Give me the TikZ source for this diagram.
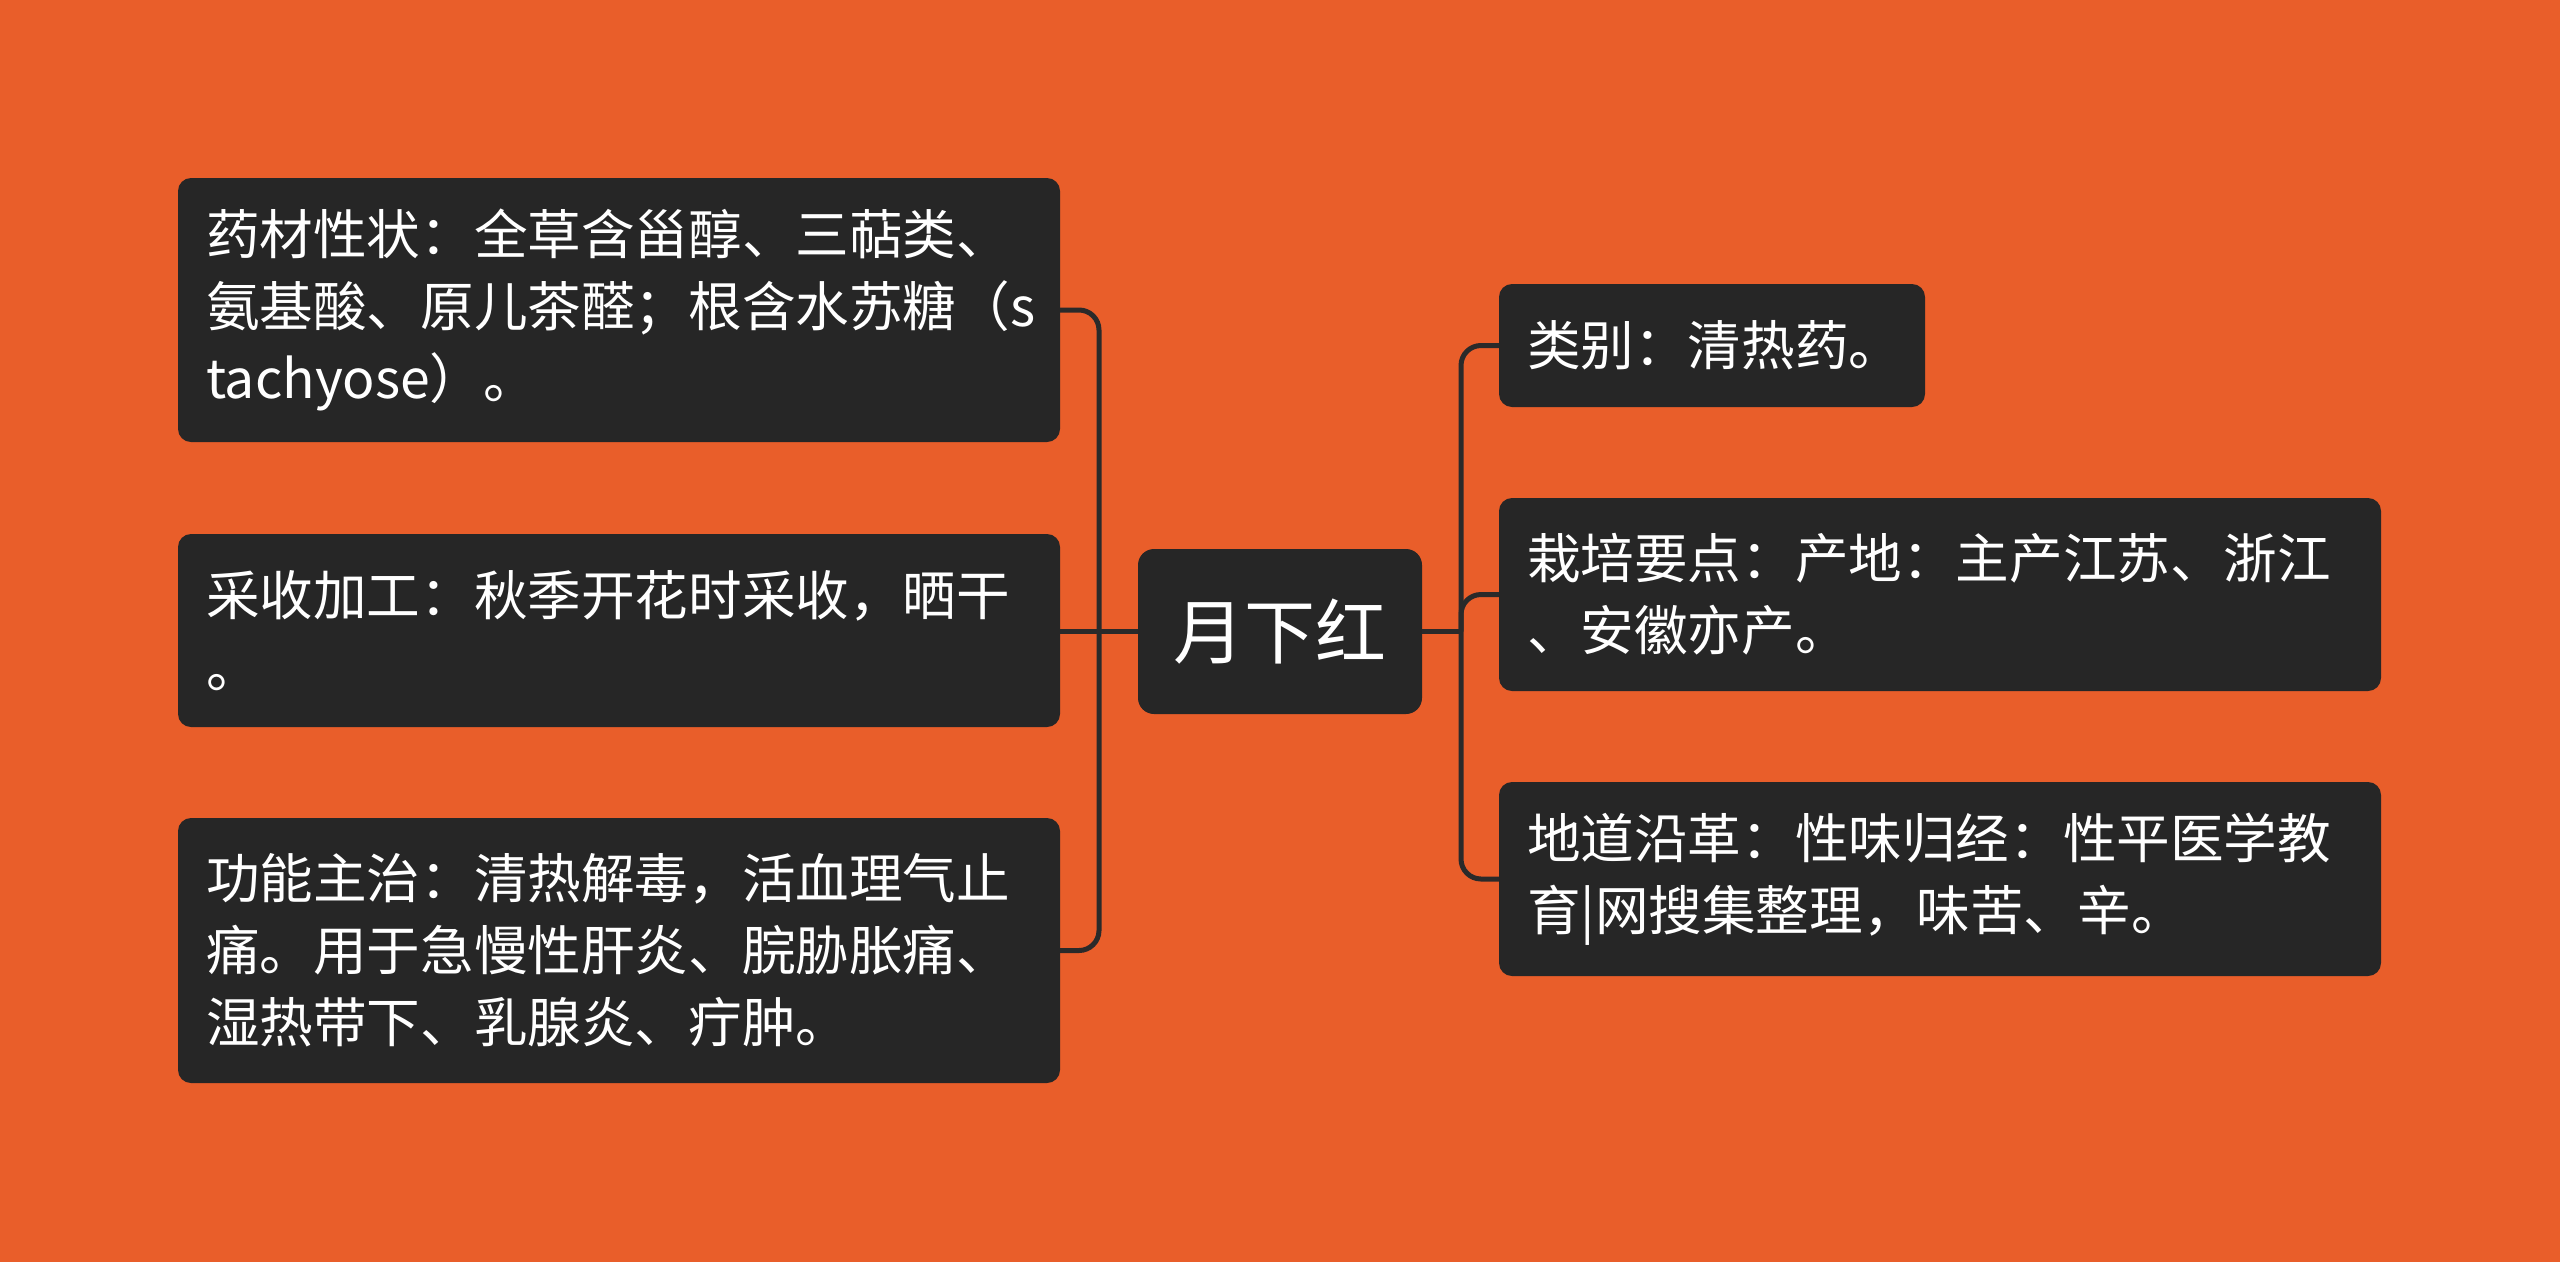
\documentclass[tikz,border=0pt]{standalone}
\usepackage{fontspec}
\setmainfont{Noto Sans CJK SC}
\definecolor{bgc}{HTML}{E95E2A}
\definecolor{boxc}{HTML}{262626}
\definecolor{linec}{HTML}{2A2A2A}
\begin{document}
\begin{tikzpicture}[x=1pt,y=-1pt,
  box/.style={fill=boxc, rounded corners=13pt, text=white, inner xsep=28pt, inner ysep=0pt,
    align=left, font=\fontsize{53.6}{72}\selectfont},
  root/.style={fill=boxc, rounded corners=16pt, text=white, inner sep=0pt,
    minimum width=284pt, minimum height=165pt, font=\fontsize{71}{80}\selectfont},
  conn/.style={draw=linec, line width=5pt, rounded corners=20pt}]
\fill[bgc] (0,0) rectangle (2560,1262);
\useasboundingbox (0,0) rectangle (2560,1262);

\node[root] (c) at (1280,631.5) {月下红};

\node[box, text width=826pt, minimum height=264pt] (l1) at (619,310)
  {药材性状：全草含甾醇、三萜类、\\氨基酸、原儿茶醛；根含水苏糖（s\\tachyose）。};
\node[box, text width=826pt, minimum height=193pt] (l2) at (619,630.5)
  {采收加工：秋季开花时采收，晒干\\。};
\node[box, text width=826pt, minimum height=265pt] (l3) at (619,950.5)
  {功能主治：清热解毒，活血理气止\\痛。用于急慢性肝炎、脘胁胀痛、\\湿热带下、乳腺炎、疔肿。};

\node[box, text width=370pt, minimum height=123pt] (r1) at (1712,345.5)
  {类别：清热药。};
\node[box, text width=826pt, minimum height=193pt] (r2) at (1940,594.5)
  {栽培要点：产地：主产江苏、浙江\\、安徽亦产。};
\node[box, text width=826pt, minimum height=194pt] (r3) at (1940,879)
  {地道沿革：性味归经：性平医学教\\育|网搜集整理，味苦、辛。};

\coordinate (tl) at (1099,631.5);
\coordinate (tr) at (1461,631.5);

\draw[conn] (l1.east) -| (l3.east -| tl) -- (l3.east);
\draw[conn] (c.west) -- (c.west -| l2.east);
\draw[conn] (r1.west) -| (r3.west -| tr) -- (r3.west);
\draw[conn] (c.east) -- (tr);
\draw[conn] (r2.west) -| (tr);
\end{tikzpicture}
\end{document}
